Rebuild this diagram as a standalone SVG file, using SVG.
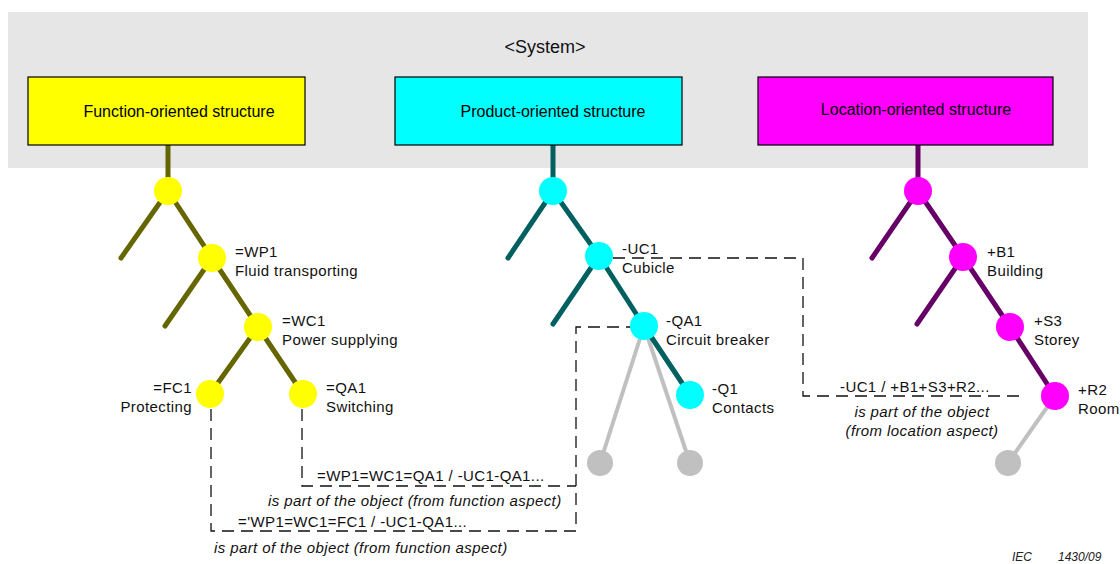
<svg xmlns="http://www.w3.org/2000/svg" width="1120" height="564" viewBox="0 0 1120 564">
<style>
.title{font-family:"Liberation Sans",Arial,sans-serif;font-size:16px;fill:#000;text-anchor:middle}
.lbl{font-family:"Liberation Sans",Arial,sans-serif;font-size:15px;letter-spacing:0.4px;fill:#111}
.it{font-family:"Liberation Sans",Arial,sans-serif;font-size:15px;letter-spacing:0.4px;font-style:italic;fill:#111}
.box{stroke:#000;stroke-width:1.2}
.fl{stroke:#666600;stroke-width:5;stroke-linecap:round;fill:none}
.pl{stroke:#006060;stroke-width:5;stroke-linecap:round;fill:none}
.ll{stroke:#660066;stroke-width:5;stroke-linecap:round;fill:none}
.gl{stroke:#c0c0c0;stroke-width:4;stroke-linecap:round;fill:none}
.dash{stroke:#111;stroke-width:1.3;stroke-dasharray:12 7;fill:none}
.fy{fill:#ffff00}.fc{fill:#00ffff}.fm{fill:#ff00ff}.fg{fill:#c0c0c0}
</style>
<rect x="8" y="12" width="1080" height="156" fill="#e6e6e6"/>
<text x="545" y="53" font-family="Liberation Sans,Arial,sans-serif" font-size="18" text-anchor="middle" fill="#111">&lt;System&gt;</text>

<g id="connectors">
  <!-- function tree -->
  <line class="fl" x1="168" y1="145" x2="168" y2="191"/>
  <line class="fl" x1="168" y1="191" x2="121" y2="258"/>
  <line class="fl" x1="168" y1="191" x2="212" y2="258"/>
  <line class="fl" x1="212" y1="258" x2="165" y2="326"/>
  <line class="fl" x1="212" y1="258" x2="258" y2="327"/>
  <line class="fl" x1="258" y1="327" x2="210" y2="394"/>
  <line class="fl" x1="258" y1="327" x2="303" y2="394"/>
  <!-- product tree -->
  <line class="pl" x1="553" y1="145" x2="553" y2="191"/>
  <line class="pl" x1="553" y1="191" x2="508" y2="258"/>
  <line class="pl" x1="553" y1="191" x2="599" y2="256"/>
  <line class="pl" x1="599" y1="256" x2="553" y2="324"/>
  <line class="pl" x1="599" y1="256" x2="644" y2="326"/>
  <line class="gl" x1="644" y1="326" x2="600" y2="463"/>
  <line class="gl" x1="644" y1="326" x2="690" y2="463"/>
  <line class="pl" x1="644" y1="326" x2="690" y2="395"/>
  <!-- location tree -->
  <line class="ll" x1="918" y1="145" x2="918" y2="191"/>
  <line class="ll" x1="918" y1="191" x2="872" y2="258"/>
  <line class="ll" x1="918" y1="191" x2="963" y2="257"/>
  <line class="ll" x1="963" y1="257" x2="917" y2="324"/>
  <line class="ll" x1="963" y1="257" x2="1010" y2="327"/>
  <line class="ll" x1="1010" y1="327" x2="1055" y2="396"/>
  <line class="gl" x1="1055" y1="396" x2="1008" y2="463"/>
  <!-- dashed reference lines -->
  <polyline class="dash" points="211,409 211,531 576,531 576,327 632,327"/>
  <polyline class="dash" points="302,409 302,486 576,486"/>
  <polyline class="dash" points="613,258 803,258 803,396 1022,396"/>
</g>

<g id="function-structure">
  <rect class="box fy" x="28" y="77" width="277" height="68"/>
  <text class="title" x="179" y="117">Function-oriented structure</text>
</g>
<g id="product-structure">
  <rect class="box fc" x="395" y="77" width="287" height="68"/>
  <text class="title" x="553" y="117">Product-oriented structure</text>
</g>
<g id="location-structure">
  <rect class="box fm" x="758" y="77" width="295" height="68"/>
  <text class="title" x="916" y="115">Location-oriented structure</text>
</g>

<g id="f-root"><circle class="fy" cx="168" cy="191" r="14"/></g>
<g id="f-WP1"><circle class="fy" cx="212" cy="258" r="14"/>
  <text class="lbl" x="235" y="257">=WP1</text><text class="lbl" x="235" y="276">Fluid transporting</text></g>
<g id="f-WC1"><circle class="fy" cx="258" cy="327" r="14"/>
  <text class="lbl" x="282" y="326">=WC1</text><text class="lbl" x="282" y="345">Power supplying</text></g>
<g id="f-FC1"><circle class="fy" cx="210" cy="394" r="14"/>
  <text class="lbl" x="192" y="393" text-anchor="end">=FC1</text><text class="lbl" x="192" y="412" text-anchor="end">Protecting</text></g>
<g id="f-QA1"><circle class="fy" cx="303" cy="394" r="14"/>
  <text class="lbl" x="326" y="393">=QA1</text><text class="lbl" x="326" y="412">Switching</text></g>

<g id="p-root"><circle class="fc" cx="553" cy="191" r="14"/></g>
<g id="p-UC1"><circle class="fc" cx="599" cy="256" r="14"/>
  <text class="lbl" x="622" y="254">-UC1</text><text class="lbl" x="622" y="273">Cubicle</text></g>
<g id="p-QA1"><circle class="fc" cx="644" cy="326" r="14"/>
  <text class="lbl" x="666" y="326">-QA1</text><text class="lbl" x="666" y="345">Circuit breaker</text></g>
<g id="p-Q1"><circle class="fc" cx="690" cy="395" r="14"/>
  <text class="lbl" x="712" y="394">-Q1</text><text class="lbl" x="712" y="413">Contacts</text></g>
<g id="p-g1"><circle class="fg" cx="600" cy="463" r="13"/></g>
<g id="p-g2"><circle class="fg" cx="690" cy="463" r="13"/></g>

<g id="l-root"><circle class="fm" cx="918" cy="191" r="14"/></g>
<g id="l-B1"><circle class="fm" cx="963" cy="257" r="14"/>
  <text class="lbl" x="987" y="257">+B1</text><text class="lbl" x="987" y="276">Building</text></g>
<g id="l-S3"><circle class="fm" cx="1010" cy="327" r="14"/>
  <text class="lbl" x="1034" y="326">+S3</text><text class="lbl" x="1034" y="345">Storey</text></g>
<g id="l-R2"><circle class="fm" cx="1055" cy="396" r="14"/>
  <text class="lbl" x="1078" y="395">+R2</text><text class="lbl" x="1078" y="414">Room</text></g>
<g id="l-g1"><circle class="fg" cx="1008" cy="463" r="13"/></g>

<g id="annotations">
  <text class="lbl" x="317" y="481">=WP1=WC1=QA1 / -UC1-QA1...</text>
  <text class="it" x="268" y="506">is part of the object (from function aspect)</text>
  <text class="lbl" x="238" y="527">='WP1=WC1=FC1 / -UC1-QA1...</text>
  <text class="it" x="214" y="553">is part of the object (from function aspect)</text>
  <text class="lbl" x="840" y="392">-UC1 / +B1+S3+R2...</text>
  <text class="it" x="922" y="417" text-anchor="middle">is part of the object</text>
  <text class="it" x="922" y="436" text-anchor="middle">(from location aspect)</text>
  <text x="1012" y="561" font-family="Liberation Sans,Arial,sans-serif" font-size="12" font-style="italic" fill="#222">IEC</text>
  <text x="1058" y="561" font-family="Liberation Sans,Arial,sans-serif" font-size="12" font-style="italic" fill="#222">1430/09</text>
</g>
</svg>
